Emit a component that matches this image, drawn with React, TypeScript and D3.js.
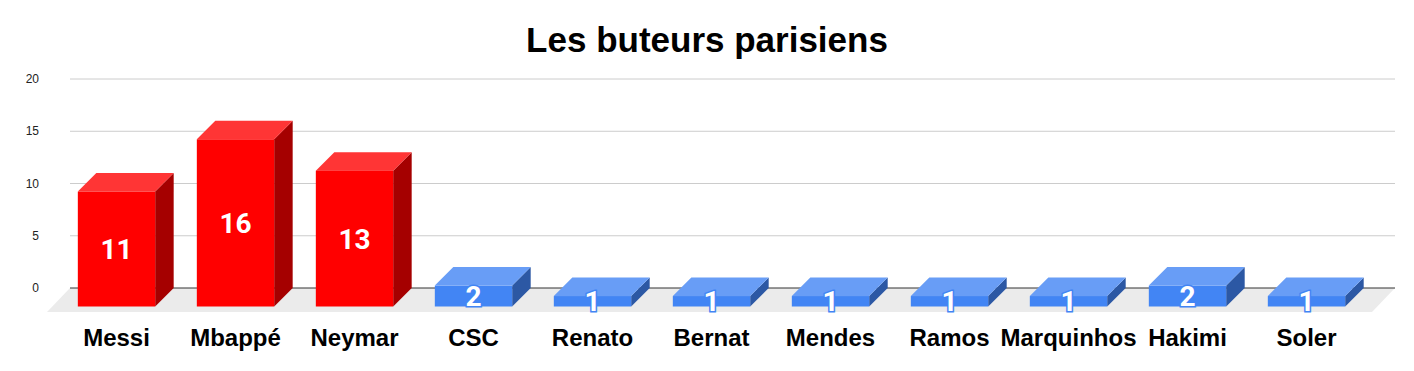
import React from "react";
import * as d3 from "d3";

const title = "Les buteurs parisiens";
const players = ["Messi", "Mbappé", "Neymar", "CSC", "Renato", "Bernat", "Mendes", "Ramos", "Marquinhos", "Hakimi", "Soler"];
const goals = [11, 16, 13, 2, 1, 1, 1, 1, 1, 2, 1];
const groups = ["red", "red", "red", "blue", "blue", "blue", "blue", "blue", "blue", "blue", "blue"];
const yTicks = [0, 5, 10, 15, 20];

const palette: Record<string, { front: string; top: string; side: string }> = {
  red: { front: "#ff0000", top: "#ff3535", side: "#a50000" },
  blue: { front: "#4285f4", top: "#689df6", side: "#2c58a4" },
};

const W = 1414;
const H = 371;
const D = 18.5; // 3D depth offset

export default function App() {
  const y = d3.scaleLinear().domain([0, 20]).range([288, 79]);
  const x = d3
    .scaleBand<string>()
    .domain(players)
    .range([57, 1366])
    .paddingInner(0.35)
    .paddingOuter(0.175);
  const bw = x.bandwidth();
  const gridX0 = 70;
  const gridX1 = 1395;
  const y0 = y(0);

  return (
    <svg
      width={W}
      height={H}
      style={{ position: "absolute", left: 0, top: 0, background: "#fff" }}
      fontFamily="'Liberation Sans', Arial, sans-serif"
    >
      <text x={707} y={52} textAnchor="middle" fontSize={35} fontWeight="bold" fill="#000">
        {title}
      </text>
      {/* floor */}
      <path
        d={`M${gridX0},${y0} L${gridX1},${y0} L${gridX1 - 23},${y0 + 24} L${gridX0 - 23},${y0 + 24} Z`}
        fill="#ebebeb"
      />
      {/* gridlines */}
      {yTicks.map((t) => (
        <g key={t}>
          {t !== 0 && (
            <line x1={gridX0} x2={gridX1} y1={y(t)} y2={y(t)} stroke="#cccccc" strokeWidth={1} />
          )}
          <text x={39} y={y(t)} dy="0.35em" textAnchor="end" fontSize={12} fill="#222">
            {t}
          </text>
        </g>
      ))}
      <line x1={gridX0} x2={gridX1} y1={y0} y2={y0} stroke="#333333" strokeWidth={1} />
      {/* bars */}
      {players.map((p, i) => {
        const c = palette[groups[i]];
        const fx = x(p)!;
        const fTop = y(goals[i]) + D;
        const fBot = y0 + D;
        const top = `M${fx},${fTop} L${fx + D},${fTop - D} L${fx + bw + D},${fTop - D} L${fx + bw},${fTop} Z`;
        const side = `M${fx + bw},${fTop} L${fx + bw + D},${fTop - D} L${fx + bw + D},${fBot - D} L${fx + bw},${fBot} Z`;
        return (
          <g key={p}>
            <path d={side} fill={c.side} />
            <path d={top} fill={c.top} />
            <rect x={fx} y={fTop} width={bw} height={fBot - fTop} fill={c.front} />
          </g>
        );
      })}
      {/* value labels */}
      {players.map((p, i) => {
        const c = palette[groups[i]];
        const fx = x(p)!;
        const fTop = y(goals[i]) + D;
        const fBot = y0 + D;
        return (
          <text
            key={p + "v"}
            x={fx + bw / 2}
            y={(fTop + fBot) / 2}
            dy="0.36em"
            textAnchor="middle"
            fontFamily="Roboto, sans-serif"
            fontWeight="bold"
            fontSize={28}
            fill="#ffffff"
            stroke={c.front}
            strokeWidth={3}
            paintOrder="stroke"
          >
            {goals[i]}
          </text>
        );
      })}
      {/* category labels */}
      {players.map((p) => (
        <text
          key={p + "c"}
          x={x(p)! + bw / 2}
          y={346}
          textAnchor="middle"
          fontSize={24}
          fontWeight="bold"
          fill="#000"
        >
          {p}
        </text>
      ))}
    </svg>
  );
}
